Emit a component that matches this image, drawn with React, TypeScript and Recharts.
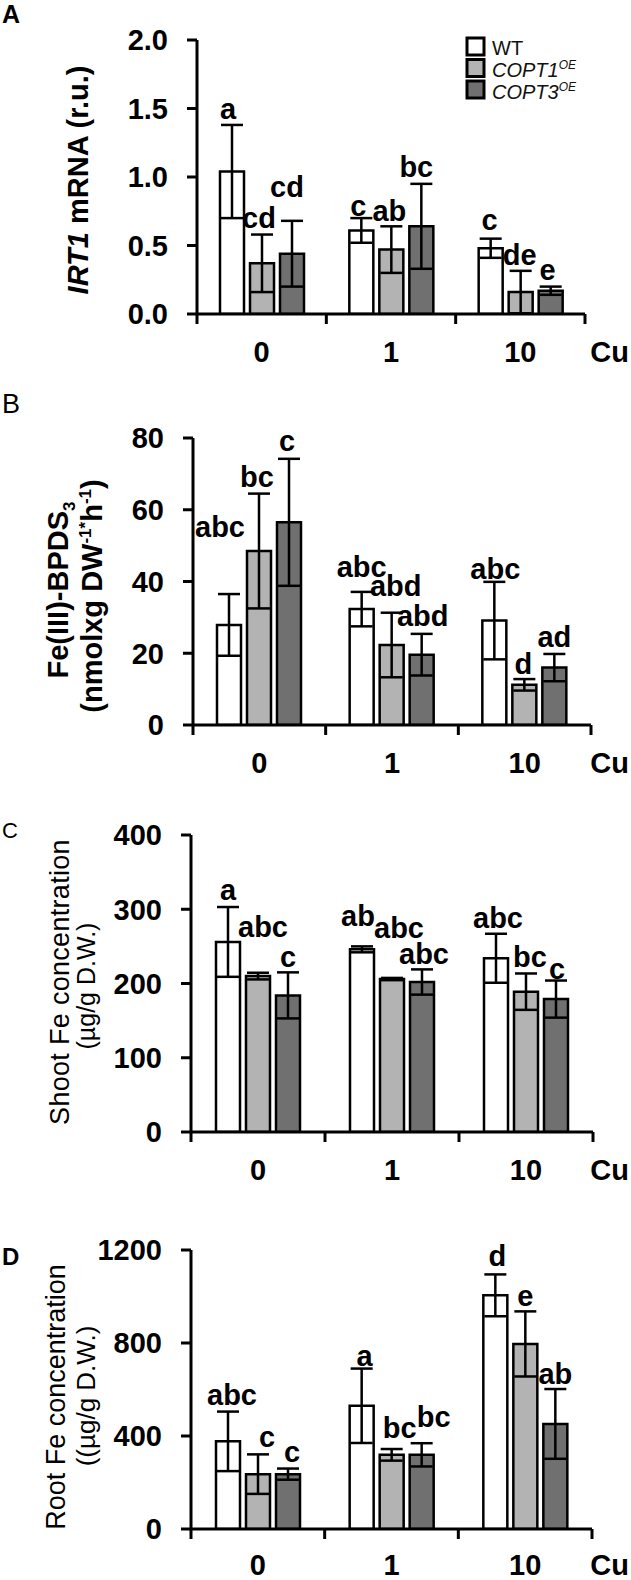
import React from 'react';
import { BarChart, Bar, XAxis, YAxis, ErrorBar, LabelList, Legend, Customized } from 'recharts';

const FONT = '"Liberation Sans", Arial, Helvetica, sans-serif';

const CU = ['0', '1', '10'];
const SERIES = ['WT', 'COPT1', 'COPT3'];
const FILLS = ['#ffffff', '#b3b3b3', '#707070'];

// Panel A – IRT1 mRNA (r.u.)
const A_WT = [1.04, 0.61, 0.48];
const A_WT_ERR = [0.34, 0.09, 0.07];
const A_C1 = [0.37, 0.47, 0.16];
const A_C1_ERR = [0.21, 0.17, 0.155];
const A_C3 = [0.44, 0.64, 0.17];
const A_C3_ERR = [0.24, 0.31, 0.03];
const A_WT_SIG = ['a', 'c', 'c'];
const A_C1_SIG = ['cd', 'ab', 'de'];
const A_C3_SIG = ['cd', 'bc', 'e'];
const A_TICKS = [0, 0.5, 1, 1.5, 2];

// Panel B – Fe(III)-BPDS3
const B_WT = [27.9, 32.3, 29.1];
const B_WT_ERR = [8.6, 4.8, 10.8];
const B_C1 = [48.5, 22.3, 11.2];
const B_C1_ERR = [16, 9, 1.6];
const B_C3 = [56.5, 19.6, 16.0];
const B_C3_ERR = [17.7, 5.8, 3.8];
const B_WT_SIG = ['abc', 'abc', 'abc'];
const B_C1_SIG = ['bc', 'abd', 'd'];
const B_C3_SIG = ['c', 'abd', 'ad'];
const B_TICKS = [0, 20, 40, 60, 80];

// Panel C – Shoot Fe concentration
const C_WT = [256, 246, 234];
const C_WT_ERR = [47, 4, 33];
const C_C1 = [210, 206, 189];
const C_C1_ERR = [4.5, 1.5, 24.5];
const C_C3 = [184, 202, 179];
const C_C3_ERR = [31, 17, 25];
const C_WT_SIG = ['a', 'ab', 'abc'];
const C_C1_SIG = ['abc', 'abc', 'bc'];
const C_C3_SIG = ['c', 'abc', 'c'];
const C_TICKS = [0, 100, 200, 300, 400];

// Panel D – Root Fe concentration
const D_WT = [377, 530, 1005];
const D_WT_ERR = [128, 160, 90];
const D_C1 = [236, 319, 796];
const D_C1_ERR = [85, 25, 140];
const D_C3 = [236, 319, 452];
const D_C3_ERR = [24, 50, 150];
const D_WT_SIG = ['abc', 'a', 'd'];
const D_C1_SIG = ['c', 'bc', 'e'];
const D_C3_SIG = ['c', 'bc', 'ab'];
const D_TICKS = [0, 400, 800, 1200];

// letter nudges [dx, dy] in px per series, per category
const A_NUDGE = [[[-4, 0], [-3, 4], [-1, -3]], [[-3, -1], [-2, 1], [-1, 0]], [[-5, -18], [-5, -1], [-3, -1]]];
const B_NUDGE = [[[-9, -51], [0, -9], [1, 3]], [[-2, -1], [4, -11], [-1, 1]], [[-2, -2], [1, -2], [0, -1]]];
const C_NUDGE = [[[0, -1], [-4, -14], [2, 0]], [[5, -30], [7, -34], [4, 0]], [[0, 1], [2, 1], [1, 4]]];
const D_NUDGE = [[[4, -1], [3, 3], [2, -2]], [[9, -1], [8, -5], [0, 1]], [[4, -1], [12, -10], [0, 1]]];

function buildRows(wt, wtE, wtS, c1, c1E, c1S, c3, c3E, c3S) {
  return CU.map((cu, i) => ({
    cu,
    wt: wt[i], wtErr: wtE[i], wtSig: wtS[i],
    c1: c1[i], c1Err: c1E[i], c1Sig: c1S[i],
    c3: c3[i], c3Err: c3E[i], c3Sig: c3S[i],
  }));
}

const makeSigLabel = (rows, vKey, eKey, sKey, nudges) => (props) => {
  const vb = props.viewBox && props.viewBox.width !== undefined ? props.viewBox : props;
  const { x, y, width, height } = vb;
  const idx = props.index ?? 0;
  const row = rows[idx];
  if (!row || x === undefined) return null;
  const top = height >= 0 ? y : y + height;
  const h = Math.abs(height);
  const perUnit = h / row[vKey];
  const errTop = top - row[eKey] * perUnit;
  const [dx, dy] = nudges[idx];
  return (
    <text x={x + width / 2 + dx} y={errTop - 6 + dy} textAnchor="middle" fontSize={29} fontWeight="bold" fontFamily={FONT} fill="#000">
      {row[sKey]}
    </text>
  );
};

const makeXTick = (bw, lift) => (props) => {
  const { x, y, payload, index } = props;
  const last = index === CU.length - 1;
  return (
    <g>
      <line x1={x - bw / 2} y1={y} x2={x - bw / 2} y2={y + 10} stroke="#000" strokeWidth={3} />
      {last && <line x1={x + bw / 2} y1={y} x2={x + bw / 2} y2={y + 10} stroke="#000" strokeWidth={3} />}
      <text x={x} y={y + 48 - lift} textAnchor="middle" fontSize={29} fontWeight="bold" fontFamily={FONT} fill="#000">
        {payload.value}
      </text>
      {last && (
        <text x={629} y={y + 48 - lift} textAnchor="end" fontSize={29} fontWeight="bold" fontFamily={FONT} fill="#000">
          Cu
        </text>
      )}
    </g>
  );
};

const LegendContent = (props) => {
  const payload = props.payload || [];
  const items = SERIES.map((s, i) => {
    const p = payload.find((q) => q.value === s);
    return { value: s, color: p && p.color ? p.color : FILLS[i] };
  });
  return (
    <svg width={170} height={70}>
      {items.map((p, i) => (
        <g key={p.value}>
          <rect x={2} y={2 + i * 21.5} width={17} height={17} fill={p.color} stroke="#000" strokeWidth={3} />
          <text x={27} y={19 + i * 22} fontSize={20} fontFamily={FONT} fontStyle={i ? 'italic' : 'normal'} fill="#111">
            {p.value}
            {i > 0 && (
              <tspan dy={-8} fontSize={12}>OE</tspan>
            )}
          </text>
        </g>
      ))}
    </svg>
  );
};

function Panel({ top, height, margin, yWidth, xHeight, max, ticks, fmt, rows, nudges, decor, legend, lift = 0 }) {
  const plotW = 631 - margin.left - margin.right - yWidth;
  const bw = plotW / CU.length;
  const keys = [['wt', 'wtErr', 'wtSig'], ['c1', 'c1Err', 'c1Sig'], ['c3', 'c3Err', 'c3Sig']];
  return (
    <div style={{ position: 'absolute', left: 0, top, width: 631, height }}>
      <BarChart width={631} height={height} data={rows} margin={margin} barSize={24} barGap={6}>
        <XAxis
          dataKey="cu"
          height={xHeight}
          interval={0}
          tickSize={0}
          tickMargin={0}
          tickLine={false}
          axisLine={{ stroke: '#000', strokeWidth: 3 }}
          tick={makeXTick(bw, lift)}
        />
        <YAxis
          width={yWidth}
          domain={[0, max]}
          ticks={ticks}
          interval={0}
          allowDataOverflow
          tickSize={10}
          tickMargin={19}
          tickFormatter={fmt}
          axisLine={{ stroke: '#000', strokeWidth: 3 }}
          tickLine={{ stroke: '#000', strokeWidth: 3 }}
          tick={{ fontSize: 29, fontWeight: 'bold', fill: '#000', fontFamily: FONT }}
        />
        {legend && (
          <Legend
            layout="horizontal"
            verticalAlign="middle"
            align="center"
            content={LegendContent}
            wrapperStyle={{ left: 465, top: 36, width: 170, height: 70 }}
          />
        )}
        {keys.map(([v, e, s], i) => (
          <Bar key={v} dataKey={v} name={SERIES[i]} fill={FILLS[i]} stroke="#000" strokeWidth={2.5} isAnimationActive={false}>
            <ErrorBar dataKey={e} width={11} stroke="#000" strokeWidth={2.5} direction="y" />
            <LabelList dataKey={s} content={makeSigLabel(rows, v, e, s, nudges[i])} />
          </Bar>
        ))}
        <Customized component={() => decor} />
      </BarChart>
    </div>
  );
}

const rowsA = buildRows(A_WT, A_WT_ERR, A_WT_SIG, A_C1, A_C1_ERR, A_C1_SIG, A_C3, A_C3_ERR, A_C3_SIG);
const rowsB = buildRows(B_WT, B_WT_ERR, B_WT_SIG, B_C1, B_C1_ERR, B_C1_SIG, B_C3, B_C3_ERR, B_C3_SIG);
const rowsC = buildRows(C_WT, C_WT_ERR, C_WT_SIG, C_C1, C_C1_ERR, C_C1_SIG, C_C3, C_C3_ERR, C_C3_SIG);
const rowsD = buildRows(D_WT, D_WT_ERR, D_WT_SIG, D_C1, D_C1_ERR, D_C1_SIG, D_C3, D_C3_ERR, D_C3_SIG);

const tb = { fontFamily: FONT, fill: '#000' };

const decorA = (
  <g>
    <text x={2} y={23} fontSize={25} fontWeight="bold" {...tb}>A</text>
    <text x={88} y={180} transform="rotate(-90 88 180)" textAnchor="middle" fontSize={29} fontWeight="bold" {...tb}>
      <tspan fontStyle="italic">IRT1</tspan> mRNA (r.u.)
    </text>
  </g>
);

const decorB = (
  <g>
    <text x={2} y={33} fontSize={27} {...tb}>B</text>
    <text x={68} y={210} transform="rotate(-90 68 210)" textAnchor="middle" fontSize={29} fontWeight="bold" {...tb}>
      Fe(III)-BPDS<tspan dy={7} fontSize={17}>3</tspan>
    </text>
    <text x={102} y={216} transform="rotate(-90 102 216)" textAnchor="middle" fontSize={29} fontWeight="bold" {...tb}>
      (nmolxg DW<tspan dy={-11} fontSize={17}>-1*</tspan>
      <tspan dy={11}>h</tspan>
      <tspan dy={-11} fontSize={17}>-1</tspan>
      <tspan dy={11}>)</tspan>
    </text>
  </g>
);

const decorC = (
  <g>
    <text x={2} y={58} fontSize={22} {...tb}>C</text>
    <text x={69} y={202} transform="rotate(-90 69 202)" textAnchor="middle" fontSize={27} letterSpacing={0.3} {...tb}>
      Shoot Fe concentration
    </text>
    <text x={95} y={206} transform="rotate(-90 95 206)" textAnchor="middle" fontSize={25} {...tb}>
      (µg/g  D.W.)
    </text>
  </g>
);

const decorD = (
  <g>
    <text x={2} y={75} fontSize={24} fontWeight="bold" {...tb}>D</text>
    <text x={65} y={207} transform="rotate(-90 65 207)" textAnchor="middle" fontSize={27} {...tb}>
      Root Fe concentration
    </text>
    <text x={95} y={206} transform="rotate(-90 95 206)" textAnchor="middle" fontSize={26} {...tb}>
      ((µg/g D.W.)
    </text>
  </g>
);

export default function App() {
  return (
    <div style={{ position: 'absolute', left: 0, top: 0, width: 631, height: 1580, background: '#fff', overflow: 'hidden' }}>
      <Panel
        top={0} height={380} margin={{ top: 40, right: 46, bottom: 0, left: 0 }} yWidth={197} xHeight={66}
        max={2} ticks={A_TICKS} fmt={(v) => Number(v).toFixed(1)} rows={rowsA} nudges={A_NUDGE} decor={decorA} legend
      />
      <Panel
        top={380} height={400} margin={{ top: 58, right: 40, bottom: 0, left: 0 }} yWidth={193} xHeight={55}
        max={80} ticks={B_TICKS} fmt={(v) => String(v)} rows={rowsB} nudges={B_NUDGE} decor={decorB}
      />
      <Panel
        top={780} height={410} margin={{ top: 55, right: 38, bottom: 0, left: 0 }} yWidth={191} xHeight={58}
        max={400} ticks={C_TICKS} fmt={(v) => String(v)} rows={rowsC} nudges={C_NUDGE} decor={decorC}
      />
      <Panel
        top={1190} height={390} margin={{ top: 60, right: 39, bottom: 0, left: 0 }} yWidth={191} xHeight={51}
        max={1200} ticks={D_TICKS} fmt={(v) => String(v)} rows={rowsD} nudges={D_NUDGE} decor={decorD} lift={2}
      />
    </div>
  );
}
